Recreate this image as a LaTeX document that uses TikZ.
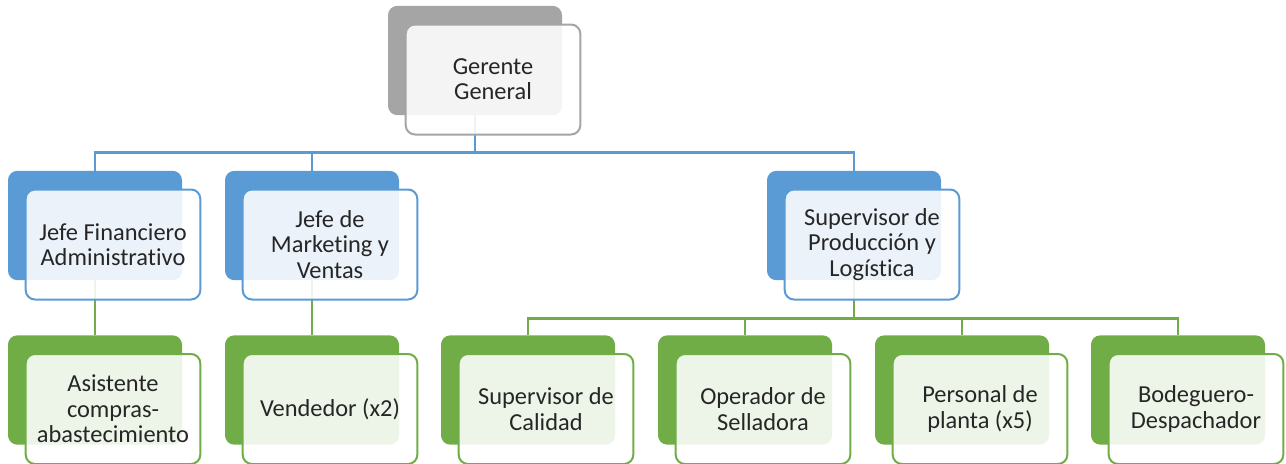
\documentclass[tikz,border=0pt]{standalone}
\usepackage{fontspec}
\setmainfont{Carlito}[Ligatures=NoCommon]
\usetikzlibrary{positioning,calc}
\definecolor{OrgBlue}{RGB}{91,155,213}
\definecolor{OrgGreen}{RGB}{112,173,71}
\definecolor{OrgGray}{RGB}{165,165,165}
\tikzset{
    backbox/.style={rectangle, rounded corners=7pt, fill=#1, minimum width=130.5pt, minimum height=82pt, inner sep=0pt},
    frontbox/.style={rectangle, rounded corners=7pt, draw=#1, line width=1.5pt, fill=white, fill opacity=0.88, text opacity=1, minimum width=131pt, minimum height=82.5pt, inner sep=0pt, align=center, text=black!85, font=\fontsize{18.3}{19}\selectfont},
    bluelink/.style={draw=OrgBlue, line width=1.6pt},
    greenlink/.style={draw=OrgGreen, line width=1.6pt}
}

\begin{document}
\begin{tikzpicture}[x=0.75pt, y=-0.75pt]
    \useasboundingbox (0,0) rectangle (1286,464);
    % Cajas de fondo
    \node[backbox=OrgGray] (gb) at (475,60.5) {};
    \node[backbox=OrgBlue] (jfb) at (95,225.5) {};
    \node[backbox=OrgBlue] (jmb) at (312,225.5) {};
    \node[backbox=OrgBlue] (spb) at (854,225.5) {};
    \node[backbox=OrgGreen] (asb) at (95,390) {};
    \node[backbox=OrgGreen] (vdb) at (312,390) {};
    \node[backbox=OrgGreen] (scb) at (528,390) {};
    \node[backbox=OrgGreen] (osb) at (745,390) {};
    \node[backbox=OrgGreen] (ppb) at (962,390) {};
    \node[backbox=OrgGreen] (bdb) at (1178,390) {};
    % Conectores
    \draw[bluelink] (gb.south) -- ++(0,37) coordinate (gbus);
    \draw[bluelink] (gbus) -| (jfb.north);
    \draw[bluelink] (gbus) -| (jmb.north);
    \draw[bluelink] (gbus) -| (spb.north);
    \draw[greenlink] (jfb.south) -- (asb.north);
    \draw[greenlink] (jmb.south) -- (vdb.north);
    \draw[greenlink] (spb.south) -- ++(0,38) coordinate (sbus);
    \draw[greenlink] (sbus) -| (scb.north);
    \draw[greenlink] (sbus) -| (osb.north);
    \draw[greenlink] (sbus) -| (ppb.north);
    \draw[greenlink] (sbus) -| (bdb.north);
    % Cajas de texto
    \node[frontbox=OrgGray] (g) at ($(gb)+(18,19)$) {Gerente\\General};
    \node[frontbox=OrgBlue] (jf) at ($(jfb)+(18,19)$) {Jefe Financiero\\Administrativo};
    \node[frontbox=OrgBlue] (jm) at ($(jmb)+(18,19)$) {Jefe de\\Marketing y\\Ventas};
    \node[frontbox=OrgBlue] (sp) at ($(spb)+(18,19)$) {Supervisor de\\Producción y\\Logística};
    \node[frontbox=OrgGreen] (as) at ($(asb)+(18,19)$) {Asistente\\compras-\\abastecimiento};
    \node[frontbox=OrgGreen] (vd) at ($(vdb)+(18,19)$) {Vendedor (x2)};
    \node[frontbox=OrgGreen] (sc) at ($(scb)+(18,19)$) {Supervisor de\\Calidad};
    \node[frontbox=OrgGreen] (os) at ($(osb)+(18,19)$) {Operador de\\Selladora};
    \node[frontbox=OrgGreen] (pp) at ($(ppb)+(18,19)$) {Personal de\\planta (x5)};
    \node[frontbox=OrgGreen] (bd) at ($(bdb)+(18,19)$) {Bodeguero-\\Despachador};
\end{tikzpicture}
\end{document}
